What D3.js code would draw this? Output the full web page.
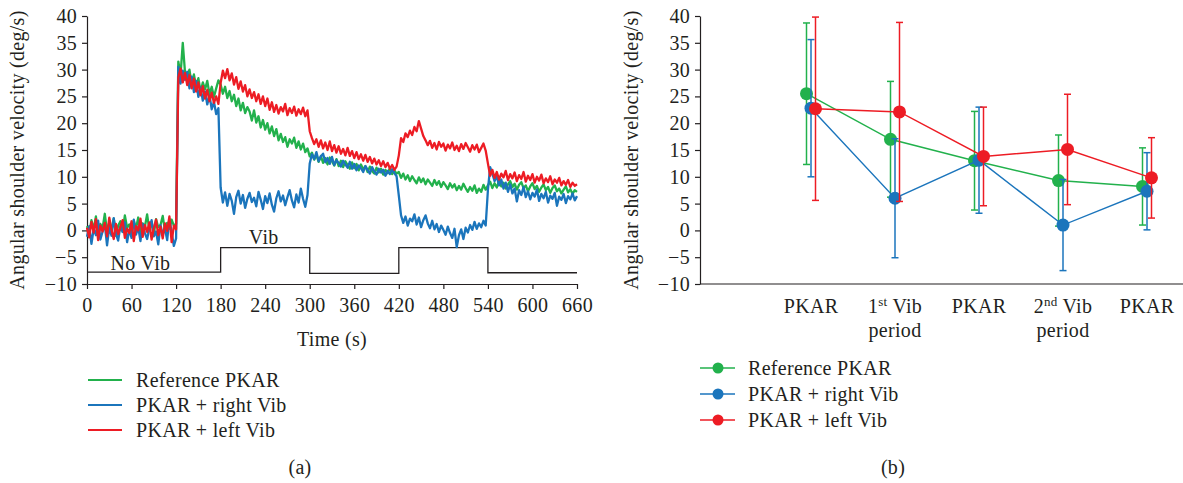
<!DOCTYPE html>
<html lang="en">
<head>
<meta charset="UTF-8">
<title>Angular shoulder velocity</title>
<script src="https://d3js.org/d3.v7.min.js"></script>
<style>
  body { margin: 0; background: #fff; }
  svg { display: block; font-family: "Liberation Serif", "DejaVu Serif", serif; letter-spacing: 0.3px; }
</style>
</head>
<body>
<svg id="chart" width="1183" height="483"></svg>
<script>
// panel (a): one value every 3 s
const sampleStep = 3

const refPKAR = [
  0.8, -0.5, 1.9, 0.2, 2.6, -0.8, 1.2, 0.4, 3.1, -0.3, 1.5, 0.1, 2.2, -1.0, 0.9, 1.7, -0.2, 2.8, 0.5, 1.1,
  -0.6, 1.8, 0.3, 2.4, -0.4, 1.3, 0.7, 3.0, 0.0, 1.6, -0.7, 2.1, 0.6, 1.0, 2.7, -0.1, 1.4, 0.3, 2.0, 0.9,
  1.2, 31.5, 29.0, 35.0, 29.5,
  28.5, 30.0, 27.2, 29.1, 26.8, 28.4, 25.9, 27.6, 26.3, 27.9, 25.4, 26.8, 24.9, 26.5, 28.0,
  27.2, 25.5, 26.8, 24.7, 26.0, 24.1, 25.3, 23.2, 24.6, 22.4, 23.8, 21.9, 23.0, 22.2, 20.5, 22.4, 20.1, 21.3, 19.2, 20.6,
  18.8, 20.0, 18.1, 19.4, 17.6, 18.9, 16.8, 18.0, 16.5, 17.4, 15.6, 17.0, 16.2, 17.3, 15.4, 16.6, 15.1, 16.2, 14.6, 15.3,
  13.8, 14.5, 13.2, 14.1, 12.8, 13.9, 12.6, 13.5, 12.3, 13.6, 12.9, 12.1, 13.3, 12.0, 13.0, 11.8, 12.9, 12.2, 11.5, 12.7,
  11.6, 12.4, 11.2, 12.3, 11.4, 12.0, 10.9, 11.9, 11.1, 10.6, 11.7, 10.8, 11.5, 10.4, 11.3, 10.7, 11.6, 10.5, 11.2, 10.6,
  10.9, 9.8, 10.6, 9.5, 10.3, 9.2, 10.1, 9.4, 8.8, 9.9, 9.0, 9.7, 8.6, 9.5, 8.9, 8.3, 9.4, 8.5, 9.2, 8.1,
  9.0, 8.4, 7.7, 8.8, 8.0, 8.6, 7.5, 8.3, 7.6, 8.7, 7.9, 7.2, 8.1, 7.4, 8.4, 7.0, 7.8, 7.2, 8.5, 7.6,
  8.4, 9.1, 7.9, 8.8, 8.0, 9.3, 8.2, 8.9, 7.8, 8.6, 9.2, 8.1, 8.7, 7.6, 8.5, 9.0, 7.9, 8.4, 7.3, 8.2,
  8.8, 7.7, 8.3, 7.2, 8.0, 8.6, 7.5, 8.1, 7.0, 7.9, 8.4, 7.3, 7.8, 6.9, 7.6, 8.2, 7.1, 7.7, 6.8, 7.5, 7.2
]

const rightVib = [
  -1.2, 0.8, -2.5, 0.3, -0.9, 1.8, -1.7, -0.2, 1.1, -2.8, 0.5, -1.0, 2.3, -0.6, -1.9, 0.9, -0.3, 1.5, -2.2, 0.2,
  -1.4, 2.0, -0.8, 0.6, -2.0, 1.2, -0.5, -1.6, 0.4, 1.9, -1.1, -0.2, -2.6, 1.0, -0.7, 0.3, -1.8, 2.2, -0.4, -2.9,
  -1.5, 30.5, 27.4, 29.8, 28.1,
  29.6, 26.5, 28.7, 25.8, 27.9, 24.9, 26.7, 24.2, 25.9, 23.5, 25.2, 22.6, 24.0, 21.7, 22.8,
  8.0, 5.2, 7.1, 4.6, 6.8, 5.5, 3.1, 6.2, 7.4, 5.0, 6.6, 4.2, 5.9, 7.0, 5.3, 6.1, 4.5, 7.2, 5.7, 4.0,
  6.4, 5.1, 6.9, 4.8, 3.5, 6.0, 7.3, 5.4, 6.5, 4.7, 6.2, 7.5, 5.6, 4.3, 6.7, 5.2, 7.8, 5.9, 4.4, 6.6,
  12.5, 14.2, 13.3, 14.6, 12.9, 13.8, 14.3, 12.7, 13.5, 12.4, 13.7, 12.2, 13.1, 12.6, 11.9, 13.0, 12.3, 11.7, 12.8, 11.5,
  12.4, 11.2, 12.1, 11.6, 10.9, 12.0, 11.3, 10.6, 11.8, 11.0, 10.4, 11.5, 10.8, 11.3, 10.2, 11.1, 10.5, 11.4, 10.7, 10.1,
  6.5, 2.8, 1.4, 2.6, 0.9, 2.2, 1.7, 3.0, 1.1, 2.4, 0.6, 1.9, 2.8, 1.3, 0.4, 1.8, 0.2, 1.2, -0.3, 0.9,
  0.1, -0.8, 0.7, -0.5, -1.4, 0.3, -3.1, -0.9, 0.2, -1.6, 0.5, -0.4, 1.0, 0.1, 1.6, 0.3, 1.3, 0.6, 1.8, 0.9,
  7.5, 11.8, 10.6, 9.2, 10.1, 8.4, 9.5, 7.8, 8.9, 7.2, 8.6, 6.9, 7.8, 5.4, 7.5, 6.6, 8.1, 6.2, 7.3, 5.8,
  7.0, 6.3, 7.6, 5.5, 6.8, 6.0, 7.2, 5.2, 6.5, 5.9, 7.0, 4.6, 6.3, 5.7, 6.8, 5.1, 6.4, 5.8, 6.9, 5.6, 6.4
]

const leftVib = [
  0.5, -1.3, 1.6, -0.4, 2.1, -1.8, 0.9, -0.2, 1.4, -1.1, 2.4, 0.1, -1.6, 1.2, -0.7, 0.6, 1.9, -1.4, 0.3, -0.5,
  1.7, -2.0, 0.8, 0.0, 2.2, -1.2, 1.0, -0.3, 1.5, -1.7, 0.4, 2.0, -0.9, 0.7, -1.5, 1.3, -0.1, 2.6, -2.2, 0.9,
  0.2, 28.5, 30.2, 27.6, 29.4,
  27.1, 29.0, 26.5, 28.3, 25.9, 27.6, 25.2, 26.9, 24.6, 26.2, 24.1, 25.7, 23.8, 25.0, 23.6,
  27.5, 29.8, 28.4, 30.1, 28.0, 29.3, 27.2, 28.6, 26.4, 27.8, 25.9, 27.1, 25.0, 26.3, 24.7, 25.8, 24.1, 25.4, 23.6, 25.0,
  23.2, 24.6, 22.5, 23.9, 22.1, 23.4, 21.8, 23.0, 22.2, 23.6, 21.5, 22.8, 21.9, 23.1, 21.4, 22.6, 21.7, 22.9, 21.3, 22.4,
  18.5, 17.2, 16.1, 17.0, 15.6, 16.8, 15.3, 16.4, 15.0, 16.6, 14.8, 15.9, 14.5, 15.7, 14.3, 15.2, 14.0, 15.4, 13.9, 14.8,
  13.5, 14.6, 13.3, 14.2, 13.0, 14.1, 12.8, 13.7, 12.5, 13.4, 12.3, 13.1, 12.0, 12.9, 11.8, 12.6, 11.5, 12.2, 11.3, 11.9,
  14.0, 17.2, 16.5, 18.1, 17.4, 18.6, 17.8, 19.3, 18.5, 20.4, 19.0, 17.6, 16.8, 15.9, 16.7, 15.4, 16.3, 15.1, 16.5, 15.6,
  16.2, 14.9, 16.0, 15.3, 16.4, 15.0, 15.8, 14.8, 16.1, 15.2, 16.3, 15.5, 14.7, 15.9, 15.1, 16.0, 14.6, 15.4, 16.2, 14.9,
  12.5, 10.2, 11.3, 9.8, 10.9, 9.5, 10.6, 9.9, 11.1, 9.4, 10.5, 9.7, 10.8, 9.2, 10.3, 9.6, 10.9, 9.1, 10.2, 9.4,
  10.5, 8.9, 10.0, 9.3, 10.4, 8.8, 9.7, 9.0, 10.1, 8.6, 9.5, 8.9, 9.8, 8.4, 9.2, 8.5, 9.4, 8.1, 8.9, 8.3, 8.6
]

const timeTicks = [0, 60, 120, 180, 240, 300, 360, 420, 480, 540, 600, 660]
const velTicks = [-10, -5, 0, 5, 10, 15, 20, 25, 30, 35, 40]

// vibration on/off indicator drawn under the traces
const vibTimes = [0, 180, 300, 420, 540, 660]
const vibLevel = [-7.8, -3.2, -8.0, -3.2, -7.9, -7.9]

// panel (b): mean and SD per period
const periodLine1 = ["PKAR", "1|st| Vib", "PKAR", "2|nd| Vib", "PKAR"]
const periodLine2 = ["", "period", "", "period", ""]
const refMean = [25.5, 17.0, 13.0, 9.3, 8.2]
const refSD = [13.2, 10.8, 9.2, 8.5, 7.2]
const rightMean = [22.8, 6.0, 13.1, 1.0, 7.3]
const rightSD = [12.8, 11.1, 9.9, 8.5, 7.2]
const leftMean = [22.7, 22.1, 13.8, 15.1, 9.8]
const leftSD = [17.1, 16.7, 9.2, 10.3, 7.5]

const seriesNames = ["Reference PKAR", "PKAR + right Vib", "PKAR + left Vib"]
const colors = ["#22b14c", "#1b75bc", "#ed1c24"]
const ink = "#231f20"
const fontSize = 20

const svg = d3.select("#chart")

function styleAxis(g) {
  g.attr("font-size", null).attr("font-family", null)
  g.selectAll("text").attr("font-size", fontSize).attr("fill", ink)
  g.selectAll("line, path").attr("stroke", ink).attr("stroke-width", 1.2)
}

// ---------- panel (a) ----------
const x = d3.scaleLinear().domain([0, 660]).range([87, 577])
const y = d3.scaleLinear().domain([-10, 40]).range([284, 16])

svg.append("g")
  .attr("transform", `translate(0,${y(-10)})`)
  .call(d3.axisBottom(x).tickValues(timeTicks).tickSize(5).tickSizeOuter(0).tickPadding(9))
  .call(styleAxis)

svg.append("g")
  .attr("transform", `translate(${x(0)},0)`)
  .call(d3.axisLeft(y).tickValues(velTicks).tickSize(5).tickSizeOuter(0).tickPadding(5))
  .call(styleAxis)

svg.append("path")
  .datum(vibTimes)
  .attr("fill", "none")
  .attr("stroke", ink)
  .attr("stroke-width", 1.3)
  .attr("d", d3.line().curve(d3.curveStepAfter).x(d => x(d)).y((d, i) => y(vibLevel[i])))

svg.append("text").attr("x", x(72)).attr("y", 270).attr("text-anchor", "middle")
  .attr("font-size", fontSize).attr("fill", ink).text("No Vib")
svg.append("text").attr("x", x(238)).attr("y", 244).attr("text-anchor", "middle")
  .attr("font-size", fontSize).attr("fill", ink).text("Vib")

const traces = [refPKAR, rightVib, leftVib]
const trace = d3.line().x((d, i) => x(i * sampleStep)).y(d => y(d))
traces.forEach((vals, k) => {
  svg.append("path")
    .datum(vals)
    .attr("fill", "none")
    .attr("stroke", colors[k])
    .attr("stroke-width", 2.3)
    .attr("stroke-linejoin", "round")
    .attr("d", trace)
})

svg.append("text")
  .attr("transform", `translate(24,${y(15)}) rotate(-90)`)
  .attr("text-anchor", "middle").attr("font-size", fontSize).attr("fill", ink)
  .text("Angular shoulder velocity (deg/s)")

svg.append("text").attr("x", 332).attr("y", 346).attr("text-anchor", "middle")
  .attr("font-size", fontSize).attr("fill", ink).text("Time (s)")

seriesNames.forEach((name, k) => {
  const ly = 380 + k * 25
  svg.append("line").attr("x1", 88).attr("x2", 122).attr("y1", ly).attr("y2", ly)
    .attr("stroke", colors[k]).attr("stroke-width", 1.8)
  svg.append("text").attr("x", 136).attr("y", ly + 7)
    .attr("font-size", fontSize).attr("fill", ink).text(name)
})

svg.append("text").attr("x", 300).attr("y", 474).attr("text-anchor", "middle")
  .attr("font-size", fontSize).attr("fill", ink).text("(a)")

// ---------- panel (b) ----------
const xb = d3.scalePoint().domain(d3.range(periodLine1.length)).range([811, 1147])
const yb = d3.scaleLinear().domain([-10, 40]).range([284, 16])

svg.append("g")
  .attr("transform", "translate(700,0)")
  .call(d3.axisLeft(yb).tickValues(velTicks).tickSize(5).tickSizeOuter(0).tickPadding(5))
  .call(styleAxis)

svg.append("line").attr("x1", 700).attr("x2", 1183).attr("y1", yb(-10)).attr("y2", yb(-10))
  .attr("stroke", ink).attr("stroke-width", 1.2)

periodLine1.forEach((lab, i) => {
  const t = svg.append("text").attr("x", xb(i)).attr("y", 313).attr("text-anchor", "middle")
    .attr("font-size", fontSize).attr("fill", ink)
  const parts = lab.split("|")
  if (parts.length === 1) {
    t.text(lab)
  } else {
    t.append("tspan").text(parts[0])
    t.append("tspan").attr("font-size", 13).attr("dy", -7).text(parts[1])
    t.append("tspan").attr("dy", 7).text(parts[2])
  }
  if (periodLine2[i]) {
    svg.append("text").attr("x", xb(i)).attr("y", 337).attr("text-anchor", "middle")
      .attr("font-size", fontSize).attr("fill", ink).text(periodLine2[i])
  }
})

const means = [refMean, rightMean, leftMean]
const sds = [refSD, rightSD, leftSD]
const offsets = [-4.5, 0, 4.5]
const cap = 3.5

means.forEach((m, k) => {
  const g = svg.append("g")
  const px = i => xb(i) + offsets[k]
  m.forEach((v, i) => {
    const lo = v - sds[k][i], hi = v + sds[k][i]
    g.append("line").attr("x1", px(i)).attr("x2", px(i)).attr("y1", yb(lo)).attr("y2", yb(hi))
      .attr("stroke", colors[k]).attr("stroke-width", 1.5)
    ;[lo, hi].forEach(e => {
      g.append("line").attr("x1", px(i) - cap).attr("x2", px(i) + cap).attr("y1", yb(e)).attr("y2", yb(e))
        .attr("stroke", colors[k]).attr("stroke-width", 1.5)
    })
  })
  g.append("path").datum(m).attr("fill", "none").attr("stroke", colors[k]).attr("stroke-width", 1.4)
    .attr("d", d3.line().x((d, i) => px(i)).y(d => yb(d)))
  g.selectAll("circle").data(m).join("circle")
    .attr("cx", (d, i) => px(i)).attr("cy", d => yb(d)).attr("r", 6.5).attr("fill", colors[k])
})

svg.append("text")
  .attr("transform", `translate(638,${yb(15)}) rotate(-90)`)
  .attr("text-anchor", "middle").attr("font-size", fontSize).attr("fill", ink)
  .text("Angular shoulder velocity (deg/s)")

seriesNames.forEach((name, k) => {
  const ly = 368 + k * 26
  svg.append("line").attr("x1", 700).attr("x2", 735).attr("y1", ly).attr("y2", ly)
    .attr("stroke", colors[k]).attr("stroke-width", 1.6)
  svg.append("circle").attr("cx", 718).attr("cy", ly).attr("r", 5.5).attr("fill", colors[k])
  svg.append("text").attr("x", 748).attr("y", ly + 7)
    .attr("font-size", fontSize).attr("fill", ink).text(name)
})

svg.append("text").attr("x", 893).attr("y", 474).attr("text-anchor", "middle")
  .attr("font-size", fontSize).attr("fill", ink).text("(b)")
</script>
</body>
</html>
